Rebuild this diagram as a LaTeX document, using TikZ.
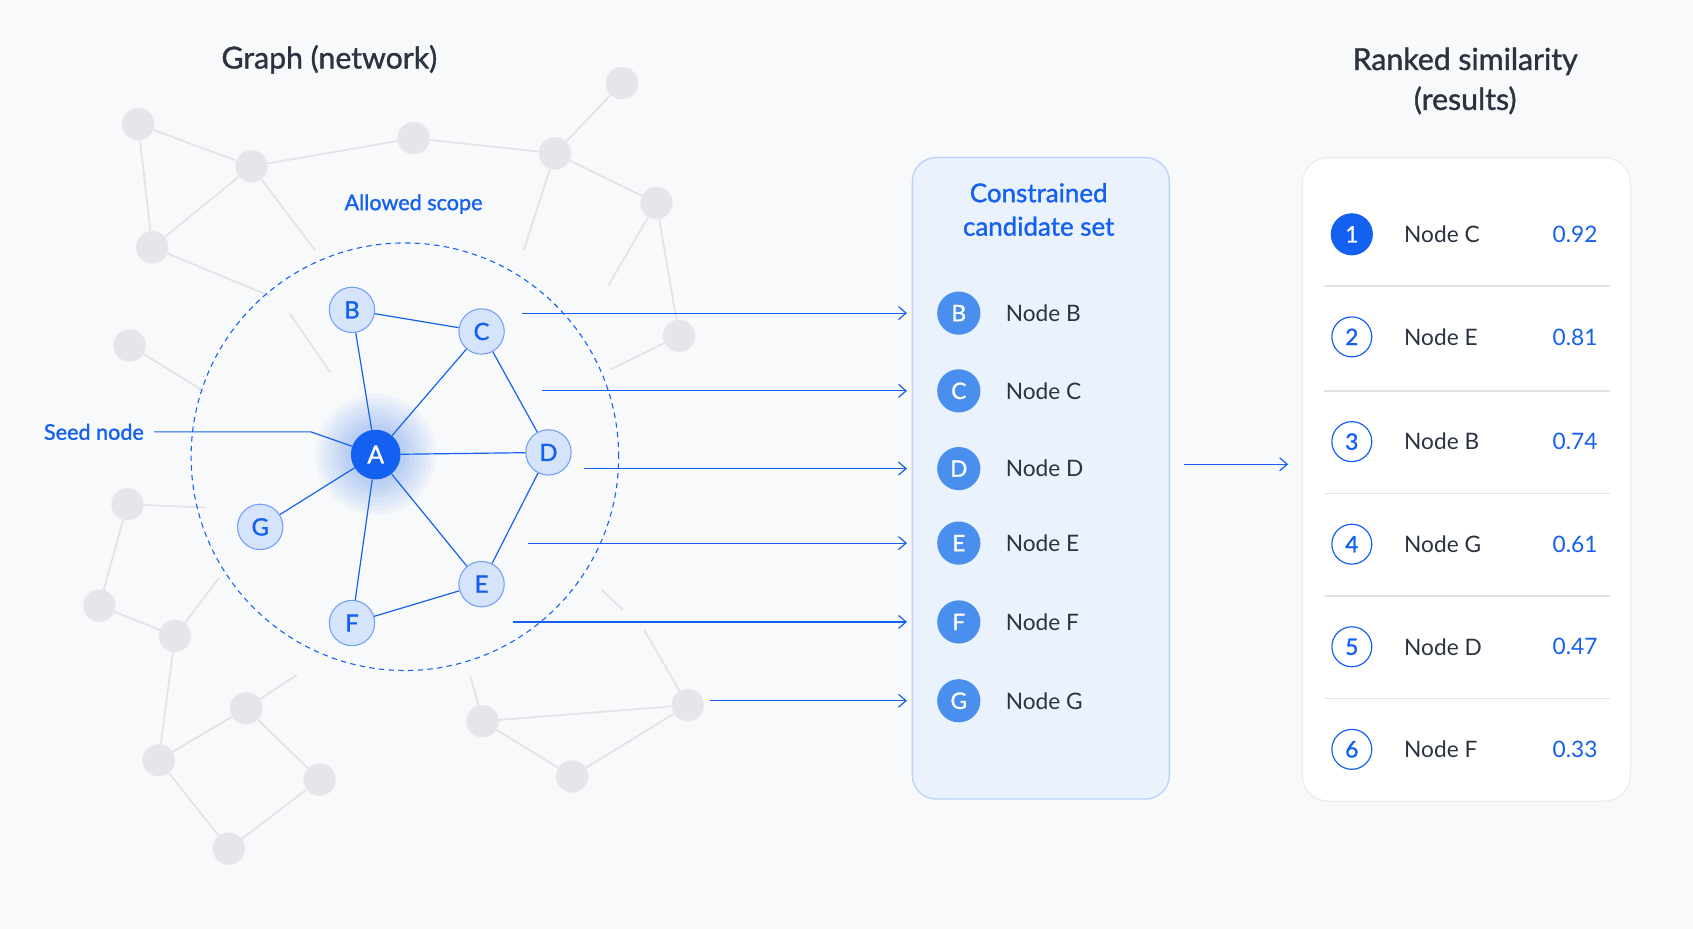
\documentclass[tikz,border=0pt]{standalone}
\usepackage{fontspec}
\setmainfont{Lato}
\newfontfamily\semib{Lato}[FakeBold=1.2]
\usetikzlibrary{arrows.meta}
\definecolor{bl}{HTML}{1460F0}
\definecolor{lbl}{HTML}{D5E4FB}
\definecolor{mbl}{HTML}{4A8EEE}
\definecolor{gn}{HTML}{E5E6E9}
\definecolor{ge}{HTML}{E2E3E6}
\definecolor{bg}{HTML}{F8F9FB}
\definecolor{dk}{HTML}{2B3240}
\definecolor{boxf}{HTML}{EAF2FD}
\definecolor{boxd}{HTML}{B9D3FA}
\begin{document}
\begin{tikzpicture}[x=1pt,y=-1pt,
 gnode/.style={circle,fill=gn,draw=gn!90!black!30,minimum size=30pt,inner sep=0},
 gedge/.style={draw=ge,line width=1.6pt},
 snode/.style={circle,fill=lbl,draw=bl!60,line width=1pt,minimum size=42pt,inner sep=0,text=bl,font=\semib\fontsize{22}{22}\selectfont},
 sedge/.style={draw=bl,line width=1.1pt},
 arr/.style={draw=bl,line width=1.1pt,-{Straight Barb[length=7pt,width=12pt]}},
 cnode/.style={circle,fill=mbl,minimum size=40pt,inner sep=0,text=white,font=\semib\fontsize{21}{21}\selectfont},
 lab/.style={font=\fontsize{21}{21}\selectfont,text=dk,anchor=west},
 rnum/.style={circle,draw=bl,line width=1.1pt,fill=white,minimum size=37pt,inner sep=0,text=bl,font=\semib\fontsize{21}{21}\selectfont},
 score/.style={font=\fontsize{21}{21}\selectfont,text=bl,anchor=east},
 ttl/.style={font=\semib\fontsize{28}{37}\selectfont,text=dk,align=center}]
\fill[bg] (0,0) rectangle (1568,860);
\useasboundingbox (0,0) rectangle (1568,860);
% background graph
\foreach \n/\x/\y in {g1/128/115,g2/233/154,g3/383/128,g4/514/142,g5/576/77,g6/608/188,g7/141/229,g8/629/311,g9/120/320,g10/118/467,g11/92/561,g12/162/589,g13/228/656,g14/147/704,g15/296/722,g16/212/786,g17/447/668,g18/637/653,g19/530/719}
  \node[gnode] (\n) at (\x,\y) {};
\coordinate (h1) at (292,232); \coordinate (h2) at (250,274);
\coordinate (h3) at (268,290); \coordinate (h4) at (306,345);
\coordinate (h5) at (485,232); \coordinate (h6) at (563,265);
\coordinate (h7) at (566,342); \coordinate (h8) at (190,363);
\coordinate (h9) at (190,470); \coordinate (h10) at (203,535);
\coordinate (h11) at (275,625); \coordinate (h12) at (436,627);
\coordinate (h13) at (597,584); \coordinate (h14) at (557,546); \coordinate (h15) at (577,565);
\foreach \a/\b in {g1/g2,g2/g3,g3/g4,g4/g5,g4/g6,g1/g7,g2/g7,g2/h1,g7/h2,g4/h5,g6/h6,g6/g8,g8/h7,g9/h8,g10/h9,g10/g11,g11/g12,g12/h10,g12/g14,g14/g13,g13/h11,g13/g15,g15/g16,g14/g16,g17/g18,g17/g19,g19/g18,g17/h12,g18/h13}
  \draw[gedge] (\a) -- (\b);
\draw[gedge] (h3) -- (h4); \draw[gedge] (h14) -- (h15);
% titles
\node[ttl] (t1) at (305,55) {Graph (network)};
\node[ttl] (t2) at (1357,75) {Ranked similarity\\(results)};
% scope
\node[circle,draw=bl,dash pattern=on 5pt off 4pt,line width=1pt,minimum size=396pt,inner sep=0] (scope) at (375,423) {};
\node[text=bl,font=\semib\fontsize{20}{20}\selectfont] (al) at (383,189) {Allowed scope};
% glow
\foreach \r in {56,52,...,26}
  \fill[bl,opacity=0.035] (348,421) circle (\r pt);
\node[circle,fill=bl,minimum size=46pt,inner sep=0,text=white,font=\semib\fontsize{23}{23}\selectfont] (A) at (348,421) {A};
\node[snode] (B) at (326,287) {B};
\node[snode] (C) at (446,307) {C};
\node[snode] (D) at (508,419) {D};
\node[snode] (E) at (446,541) {E};
\node[snode] (F) at (326,577) {F};
\node[snode] (G) at (241,488) {G};
\foreach \a/\b in {A/B,A/C,A/D,A/E,A/F,A/G,B/C,C/D,D/E,E/F}
  \draw[sedge] (\a) -- (\b);
% seed
\node[text=bl,font=\semib\fontsize{20}{20}\selectfont] (seed) at (87,400) {Seed node};
\coordinate (sk) at (288,400);
\draw[sedge] (seed.east) ++(6,0) -- (sk) -- (A);
% candidate box
\node[draw=boxd,fill=boxf,line width=1.2pt,rounded corners=22pt,minimum width=238pt,minimum height=594pt,inner sep=0] (cbox) at (964,443) {};
\node[text=bl,font=\semib\fontsize{24}{31}\selectfont,align=center] (ctitle) at (962,194) {Constrained\\candidate set};
\foreach \L/\y/\sx in {B/290/483,C/362/502,D/434/541,E/503/489,F/576/475,G/649/658}{
  \node[cnode] (c\L) at (888,\y) {\L};
  \node[lab] (n\L) at (928,\y) {Node \L};
  \coordinate (s\L) at (\sx,\y);
  \coordinate (e\L) at (840,\y);
  \draw[arr] (s\L) -- (e\L);
}
% result box
\node[draw=gn!80!black!25,fill=white,line width=1.2pt,rounded corners=24pt,minimum width=304pt,minimum height=596pt,inner sep=0] (rbox) at (1358,444) {};
\coordinate (m1) at (1097,430); \coordinate (m2) at (1193,430);
\draw[arr] (m1) -- (m2);
\foreach \i/\L/\s/\y in {1/C/0.92/217,2/E/0.81/312,3/B/0.74/409,4/G/0.61/504,5/D/0.47/599,6/F/0.33/694}{
  \node[rnum] (r\i) at (1252,\y) {\i};
  \node[lab] (rl\i) at (1297,\y) {Node \L};
  \node[score] (rs\i) at (1483,\y) {\s};
}
\node[circle,fill=bl,minimum size=39pt,inner sep=0,text=white,font=\semib\fontsize{21}{21}\selectfont] (r1f) at (1252,217) {1};
\foreach \y in {265,362,457,552,647}{
  \draw[ge,line width=1.2pt] (1226,\y) -- (1491,\y);
}
\end{tikzpicture}
\end{document}
